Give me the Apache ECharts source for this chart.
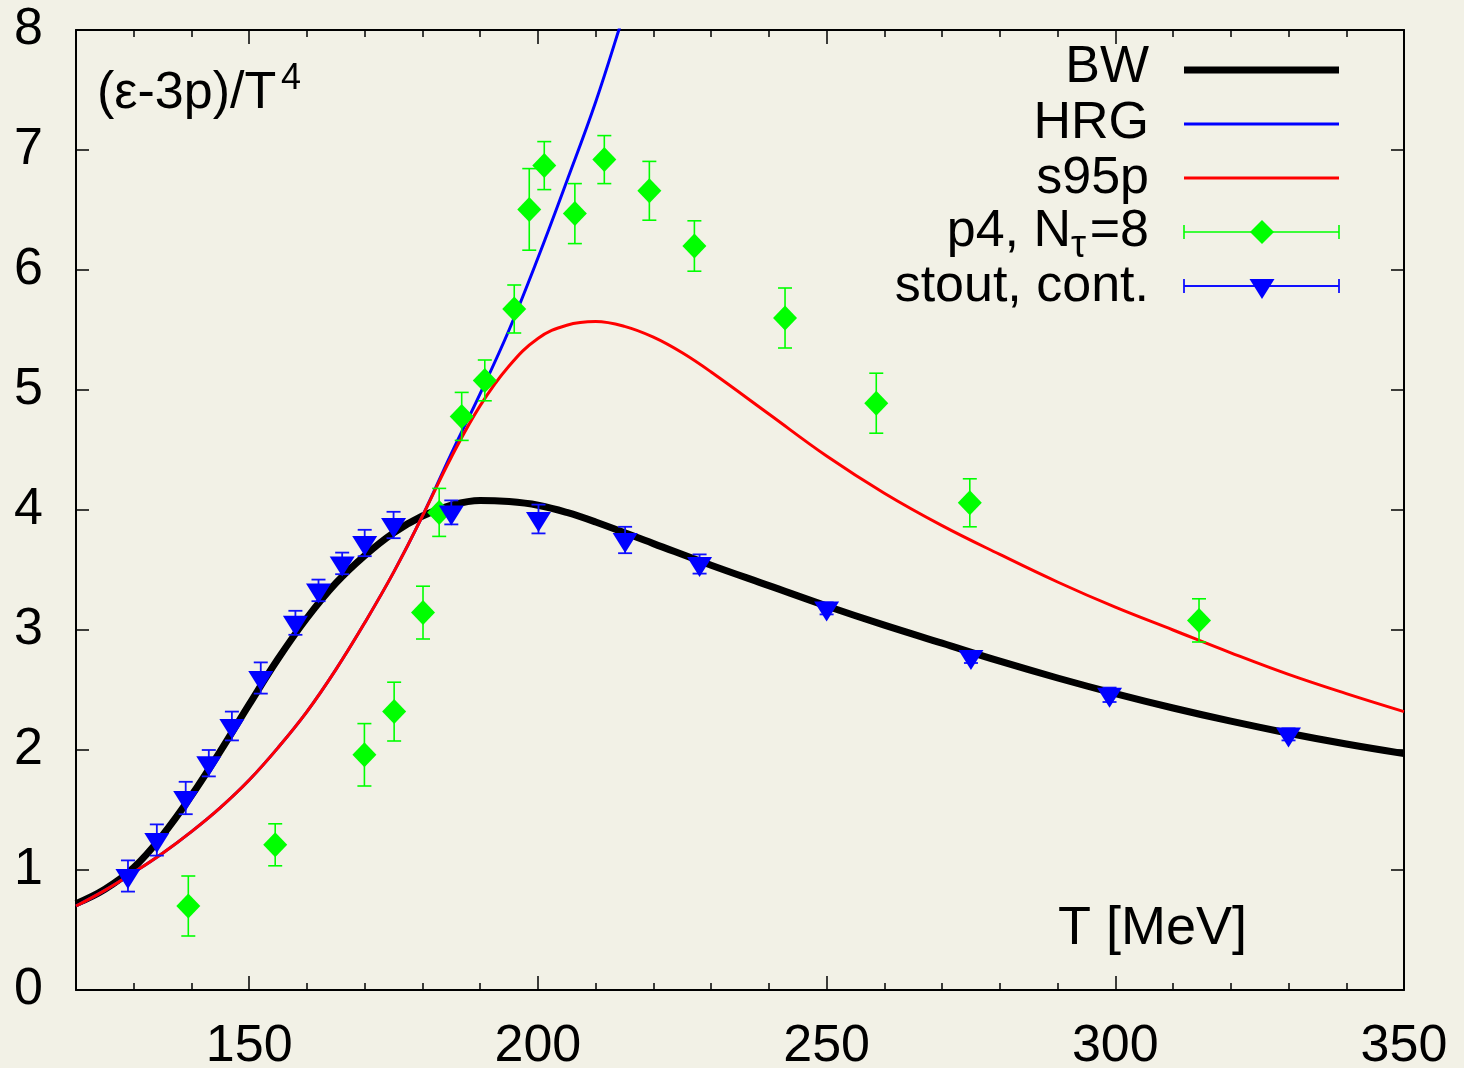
<!DOCTYPE html>
<html>
<head>
<meta charset="utf-8">
<script src="https://cdn.jsdelivr.net/npm/echarts@6/dist/echarts.min.js"></script>
<style>
html,body{margin:0;padding:0;background:#f2f1e6;}
#chart{width:1464px;height:1068px;}
</style>
</head>
<body>
<div id="chart"></div>
<script>
// ---- data ----
const xMajorTicks = [150, 200, 250, 300, 350];
const xMinorTicks = [130, 140, 160, 170, 180, 190, 210, 220, 230, 240, 260, 270, 280, 290, 310, 320, 330, 340];

const bwT = [120, 125, 130, 135, 140, 145, 150, 155, 160, 165, 170, 175, 180, 185, 190, 195, 200, 205, 210, 220, 230, 240, 250, 260, 270, 280, 290, 300, 310, 320, 330, 340, 350];
const bwY = [0.72, 0.84, 1.02, 1.29, 1.62, 1.99, 2.38, 2.76, 3.10, 3.39, 3.62, 3.81, 3.95, 4.04, 4.08, 4.07, 4.04, 3.98, 3.90, 3.72, 3.54, 3.37, 3.20, 3.04, 2.89, 2.74, 2.60, 2.47, 2.35, 2.24, 2.14, 2.05, 1.97];

const s95T = [120, 125, 130, 135, 140, 145, 150, 155, 160, 165, 170, 175, 180, 185, 190, 195, 200, 205, 210, 215, 220, 225, 230, 240, 250, 260, 270, 280, 290, 300, 310, 320, 330, 340, 350];
const s95Y = [0.70, 0.83, 0.98, 1.14, 1.32, 1.52, 1.75, 2.02, 2.32, 2.67, 3.06, 3.48, 3.95, 4.44, 4.87, 5.20, 5.43, 5.54, 5.57, 5.53, 5.44, 5.31, 5.15, 4.80, 4.45, 4.14, 3.87, 3.63, 3.40, 3.19, 3.00, 2.81, 2.63, 2.47, 2.32];

const hrgT = [120, 125, 130, 135, 140, 145, 150, 155, 160, 165, 170, 175, 180, 185, 190, 195, 200, 205, 210, 215, 218];
const hrgY = [0.70, 0.83, 0.98, 1.14, 1.32, 1.52, 1.75, 2.02, 2.32, 2.67, 3.06, 3.48, 3.95, 4.47, 4.97, 5.50, 6.10, 6.74, 7.40, 8.15, 8.6];

const p4T   = [139.45, 154.5, 169.95, 175.1, 180.1, 182.9, 186.8, 190.8, 195.9, 198.5, 201.1, 206.4, 211.5, 219.3, 227.1, 242.8, 258.6, 274.8, 314.5];
const p4Y   = [0.70, 1.21, 1.96, 2.32, 3.145, 3.98, 4.78, 5.08, 5.675, 6.505, 6.87, 6.47, 6.92, 6.66, 6.20, 5.60, 4.89, 4.06, 3.08];
const p4Err = [0.25, 0.175, 0.26, 0.245, 0.22, 0.2, 0.2, 0.17, 0.2, 0.34, 0.2, 0.25, 0.2, 0.245, 0.21, 0.25, 0.25, 0.2, 0.18];

const stoutT   = [129.0, 134.0, 139.0, 143.0, 147.0, 152.0, 158.0, 162.0, 166.1, 170.0, 175.0, 185.0, 200.1, 215.1, 228.0, 250.0, 275.0, 299.0, 330.0];
const stoutY   = [0.95, 1.25, 1.60, 1.89, 2.20, 2.60, 3.06, 3.33, 3.555, 3.725, 3.875, 3.98, 3.925, 3.75, 3.55, 3.18, 2.775, 2.46, 2.13];
const stoutErr = [0.13, 0.13, 0.135, 0.11, 0.12, 0.13, 0.10, 0.09, 0.09, 0.11, 0.11, 0.10, 0.12, 0.11, 0.08, 0.05, 0.05, 0.06, 0.05];

// ---- build ----
const FONT = "'Liberation Sans', Arial, Helvetica, sans-serif";
const BG = '#f2f1e6';
const zip2 = (a, b) => a.map((v, i) => [v, b[i]]);
const zip3 = (a, b, c) => a.map((v, i) => [v, b[i], c[i]]);

function errRender(color, cap, lw) {
  return function (params, api) {
    const x = api.value(0), y = api.value(1), e = api.value(2);
    const lo = api.coord([x, y - e]);
    const hi = api.coord([x, y + e]);
    const st = { stroke: color, lineWidth: lw, fill: null };
    return {
      type: 'group',
      children: [
        { type: 'line', shape: { x1: lo[0], y1: lo[1], x2: hi[0], y2: hi[1] }, style: st },
        { type: 'line', shape: { x1: lo[0] - cap, y1: lo[1], x2: lo[0] + cap, y2: lo[1] }, style: st },
        { type: 'line', shape: { x1: hi[0] - cap, y1: hi[1], x2: hi[0] + cap, y2: hi[1] }, style: st }
      ]
    };
  };
}

const axLine = { show: true, onZero: false, lineStyle: { color: '#000', width: 2 } };
const noLine = { show: false, onZero: false };
function xAx(pos, ticks, len, labels) {
  return {
    type: 'value', min: 120, max: 350, position: pos, gridIndex: 0,
    splitLine: { show: false },
    axisLine: labels !== null ? axLine : noLine,
    axisTick: { show: true, inside: true, length: len, customValues: ticks, lineStyle: { color: '#000', width: 1.5 } },
    axisLabel: labels ? { show: true, customValues: labels, fontSize: 52, color: '#000', fontFamily: FONT, margin: 31 } : { show: false }
  };
}

function txt(x, y, s, size, align) {
  return { type: 'text', x: x, y: y, z: 100,
    style: { text: s, font: size + 'px ' + FONT, fill: '#000', textAlign: align, textVerticalAlign: 'middle', verticalAlign: 'middle' } };
}
function hline(x1, x2, y, color, w) {
  return { type: 'line', z: 100, shape: { x1: x1, y1: y, x2: x2, y2: y }, style: { stroke: color, lineWidth: w } };
}
function vline(x, y1, y2, color, w) {
  return { type: 'line', z: 100, shape: { x1: x, y1: y1, x2: x, y2: y2 }, style: { stroke: color, lineWidth: w } };
}

const LX1 = 1184, LX2 = 1339, LXM = 1262, TXR = 1149;

const option = {
  animation: false,
  backgroundColor: BG,
  grid: { left: 76, right: 60, top: 30, bottom: 78, containLabel: false, outerBoundsMode: 'none' },
  xAxis: [
    xAx('bottom', xMajorTicks, 14, xMajorTicks),
    xAx('bottom', xMinorTicks, 7, null),
    xAx('top', xMajorTicks, 14, false),
    xAx('top', xMinorTicks, 7, null)
  ],
  yAxis: [
    {
      type: 'value', min: 0, max: 8, interval: 1, position: 'left',
      splitLine: { show: false },
      axisLine: axLine,
      axisTick: { show: true, inside: true, length: 13, lineStyle: { color: '#000', width: 1.5 } },
      axisLabel: { fontSize: 52, color: '#000', fontFamily: FONT, margin: 33 }
    },
    {
      type: 'value', min: 0, max: 8, interval: 1, position: 'right',
      splitLine: { show: false },
      axisLine: axLine,
      axisTick: { show: true, inside: true, length: 13, lineStyle: { color: '#000', width: 1.5 } },
      axisLabel: { show: false }
    }
  ],
  series: [
    { name: 'BW', type: 'line', data: zip2(bwT, bwY), showSymbol: false, smooth: 0.4,
      lineStyle: { color: '#000', width: 7 }, z: 2 },
    { name: 'HRG', type: 'line', data: zip2(hrgT, hrgY), showSymbol: false, smooth: 0.4,
      lineStyle: { color: '#0000ff', width: 3 }, z: 3 },
    { name: 's95p', type: 'line', data: zip2(s95T, s95Y), showSymbol: false, smooth: 0.4,
      lineStyle: { color: '#ff0000', width: 3 }, z: 4 },
    { name: 'p4err', type: 'custom', data: zip3(p4T, p4Y, p4Err), renderItem: errRender('#00ff00', 7, 1.6), z: 5 },
    { name: 'p4', type: 'scatter', data: zip2(p4T, p4Y), symbol: 'diamond', symbolSize: [24, 25],
      itemStyle: { color: '#00ff00', opacity: 1 }, z: 6 },
    { name: 'stouterr', type: 'custom', data: zip3(stoutT, stoutY, stoutErr), renderItem: errRender('#1010ff', 7, 1.8), z: 7 },
    { name: 'stout', type: 'scatter', data: zip2(stoutT, stoutY), symbol: 'triangle', symbolRotate: 180,
      symbolSize: [25, 20], symbolOffset: [0, 3], itemStyle: { color: '#0000ff', opacity: 1 }, z: 8 }
  ],
  graphic: [
    // axis titles
    txt(97, 94, '(ε-3p)/T', 52, 'left'),
    txt(281, 79, '4', 36, 'left'),
    txt(1058, 929, 'T [MeV]', 54, 'left'),
    // legend
    txt(TXR, 68, 'BW', 52, 'right'),
    hline(LX1, LX2, 70, '#000', 7),
    txt(TXR, 124, 'HRG', 52, 'right'),
    hline(LX1, LX2, 124, '#0000ff', 3),
    txt(TXR, 179, 's95p', 52, 'right'),
    hline(LX1, LX2, 178, '#ff0000', 3),
    txt(1071, 232, 'p4, N', 52, 'right'),
    txt(1071, 247, 'τ', 38, 'left'),
    txt(TXR, 232, '=8', 52, 'right'),
    hline(LX1, LX2, 232, '#00ff00', 1.6),
    vline(LX1, 225, 239, '#00ff00', 1.6),
    vline(LX2, 225, 239, '#00ff00', 1.6),
    { type: 'polygon', z: 101, shape: { points: [[LXM, 220], [LXM + 12, 232], [LXM, 244], [LXM - 12, 232]] }, style: { fill: '#00ff00' } },
    txt(TXR, 287, 'stout, cont.', 52, 'right'),
    hline(LX1, LX2, 286, '#1010ff', 1.8),
    vline(LX1, 279, 293, '#1010ff', 1.8),
    vline(LX2, 279, 293, '#1010ff', 1.8),
    { type: 'polygon', z: 101, shape: { points: [[LXM - 12.5, 279], [LXM + 12.5, 279], [LXM, 299]] }, style: { fill: '#0000ff' } }
  ]
};

const chart = echarts.init(document.getElementById('chart'), null, { renderer: 'canvas' });
chart.setOption(option);
</script>
</body>
</html>
